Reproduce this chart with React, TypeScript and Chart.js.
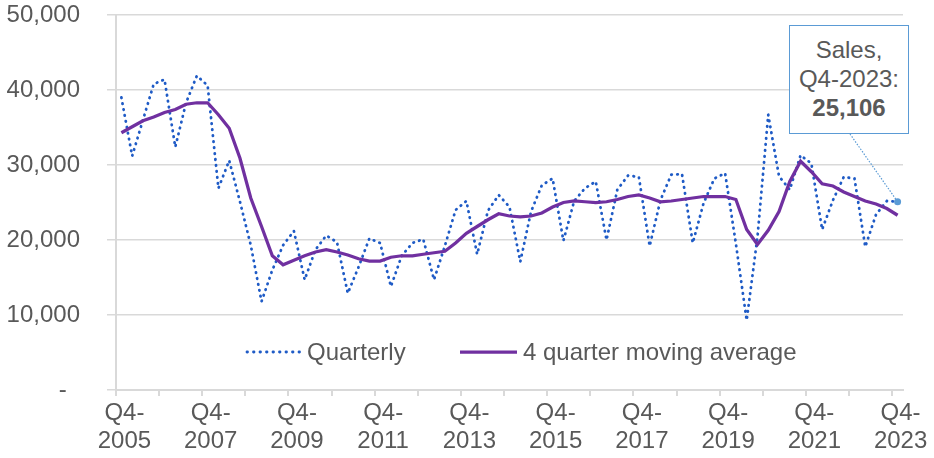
import React, { useEffect, useRef } from "react";
import { Chart, registerables } from "chart.js";

Chart.register(...registerables);

// ---- data ----
const firstCategory = "Q4-2005";
const categoryYears = [2006, 2007, 2008, 2009, 2010, 2011, 2012, 2013, 2014, 2015, 2016, 2017, 2018, 2019, 2020, 2021, 2022, 2023];
const quarterNames = ["Q1", "Q2", "Q3", "Q4"];

const quarterly = [
  39000, 31200, 36000, 40800, 41400, 32400, 38300, 41900, 40600, 26900,
  30600, 25100, 19300, 11800, 16000, 19300, 21200, 14700, 18700, 20600,
  19700, 12900, 16400, 20200, 19600, 13800, 17900, 19600, 20100, 14700,
  19200, 24000, 25200, 18100, 23900, 26000, 24400, 17100, 23800, 27300,
  28200, 19900, 25200, 26900, 27800, 20000, 26700, 28600, 28400, 19200,
  25300, 28700, 28800, 19600, 24900, 28200, 28900, 19500, 9300, 20400,
  36700, 28500, 26700, 31300, 30200, 21400, 25300, 28400, 28200, 19100,
  23400, 25200, 25106,
];

const movingAverage = [
  34300, 35100, 35900, 36400, 37000, 37400, 38100, 38300, 38300, 36700,
  34900, 30900, 25600, 21800, 17900, 16700, 17300, 17900, 18400, 18700,
  18400, 18000, 17500, 17200, 17200, 17700, 17900, 17900, 18100, 18300,
  18500, 19600, 20900, 21800, 22700, 23500, 23200, 23100, 23200, 23600,
  24400, 25000, 25200, 25100, 25000, 25100, 25400, 25800, 26000, 25600,
  25100, 25200, 25400, 25600, 25800, 25800, 25800, 25400, 21400, 19400,
  21300, 23800, 27800, 30500, 29100, 27500, 27200, 26400, 25800, 25200,
  24800, 24200, 23300,
];

const seriesNames = ["Quarterly", "4 quarter moving average"];
const yTicks = [0, 10000, 20000, 30000, 40000, 50000];
const calloutLines = ["Sales,", "Q4-2023:"];
const calloutValue = "25,106";

const categories: string[] = [firstCategory];
categoryYears.forEach((y) => quarterNames.forEach((q) => categories.push(`${q}-${y}`)));

// ---- styles ----
const FONT = "'Liberation Sans', Arial, sans-serif";
const TEXT = "#595959";
const GRID = "#d9d9d9";
const BLUE = "#1f5bc6";
const PURPLE = "#7030a0";
const CALLOUT = "#5b9bd5";

const leaderPlugin = {
  id: "leader",
  beforeDatasetsDraw(chart: any) {
    const meta = chart.getDatasetMeta(0);
    const pt = meta.data[meta.data.length - 1];
    if (!pt) return;
    const ctx = chart.ctx;
    ctx.save();
    ctx.strokeStyle = CALLOUT;
    ctx.lineWidth = 1.2;
    ctx.setLineDash([1.5, 1.5]);
    ctx.beginPath();
    ctx.moveTo(850, 134);
    ctx.lineTo(pt.x, pt.y);
    ctx.stroke();
    ctx.restore();
  },
};

export default function App() {
  const ref = useRef<HTMLCanvasElement | null>(null);

  useEffect(() => {
    if (!ref.current) return;
    const last = quarterly.length - 1;
    const chart = new Chart(ref.current, {
      type: "line",
      data: {
        labels: categories,
        datasets: [
          {
            label: seriesNames[0],
            data: quarterly,
            borderColor: BLUE,
            backgroundColor: CALLOUT,
            borderWidth: 2.8,
            borderDash: [0.5, 5.5],
            borderCapStyle: "round",
            tension: 0,
            pointRadius: (c: any) => (c.dataIndex === last ? 3.5 : 0),
            pointBackgroundColor: CALLOUT,
            pointBorderColor: CALLOUT,
            pointBorderWidth: 0,
            order: 1,
          },
          {
            label: seriesNames[1],
            data: movingAverage,
            borderColor: PURPLE,
            borderWidth: 3.25,
            tension: 0,
            pointRadius: 0,
            order: 0,
          },
        ],
      },
      options: {
        animation: false,
        responsive: true,
        maintainAspectRatio: false,
        layout: { padding: { top: 15, right: 31, left: 0, bottom: 0 } },
        plugins: {
          legend: { display: false },
          tooltip: { enabled: false },
        },
        scales: {
          x: {
            type: "category",
            offset: true,
            afterFit: (s: any) => {
              s.height = 68;
              s.paddingLeft = 0;
              s.paddingRight = 0;
            },
            grid: {
              offset: true,
              drawOnChartArea: false,
              drawTicks: true,
              tickLength: 6,
              lineWidth: 2,
              color: GRID,
              tickColor: (c: any) => (c.index % 4 === 0 ? GRID : "rgba(0,0,0,0)"),
            },
            border: { color: GRID, width: 2 },
            ticks: {
              autoSkip: false,
              maxRotation: 0,
              minRotation: 0,
              padding: 3,
              labelOffset: 3,
              color: TEXT,
              font: { family: FONT, size: 24, lineHeight: 1.17 },
              callback: function (this: any, value: any, index: number) {
                if (index % 8 !== 0) return "";
                const lab = categories[index];
                const parts = lab.split("-");
                return [parts[0] + "-", parts[1]];
              },
            },
          },
          y: {
            min: 0,
            max: 50000,
            afterFit: (s: any) => {
              s.width = 116;
              s.paddingTop = 0;
              s.paddingBottom = 0;
            },
            afterBuildTicks: (s: any) => {
              s.ticks = yTicks.map((v) => ({ value: v }));
            },
            grid: {
              color: GRID,
              lineWidth: 1.5,
              drawTicks: true,
              tickLength: 9,
            },
            border: { color: GRID, width: 2 },
            ticks: {
              padding: 27,
              color: TEXT,
              font: { family: FONT, size: 24 },
              callback: (v: any) => (Number(v) === 0 ? "-  " : Number(v).toLocaleString("en-US")),
            },
          },
        },
      },
      plugins: [leaderPlugin],
    });
    return () => chart.destroy();
  }, []);

  const textStyle: React.CSSProperties = {
    position: "absolute",
    fontFamily: FONT,
    fontSize: 24,
    color: TEXT,
    lineHeight: "28px",
    whiteSpace: "nowrap",
  };

  return (
    <div style={{ position: "absolute", left: 0, top: 0, width: 934, height: 458, background: "#fff" }}>
      <canvas ref={ref} />
      {/* legend */}
      <svg style={{ position: "absolute", left: 244, top: 346 }} width={60} height={12}>
        <line x1={3} y1={6} x2={56} y2={6} stroke={BLUE} strokeWidth={2.8} strokeDasharray="0.5 6" strokeLinecap="round" />
      </svg>
      <div style={{ ...textStyle, left: 307, top: 338 }}>{seriesNames[0]}</div>
      <svg style={{ position: "absolute", left: 458, top: 346 }} width={62} height={12}>
        <line x1={2} y1={6} x2={59} y2={6} stroke={PURPLE} strokeWidth={3.25} />
      </svg>
      <div style={{ ...textStyle, left: 523, top: 338 }}>{seriesNames[1]}</div>
      {/* callout */}
      <div
        style={{
          position: "absolute",
          left: 789,
          top: 25,
          width: 120,
          height: 109,
          boxSizing: "border-box",
          border: `1.5px solid ${CALLOUT}`,
          background: "#fff",
          fontFamily: FONT,
          fontSize: 24,
          color: TEXT,
          lineHeight: "29px",
          textAlign: "center",
          paddingTop: 9,
        }}
      >
        <div>{calloutLines[0]}</div>
        <div>{calloutLines[1]}</div>
        <div style={{ fontWeight: "bold" }}>{calloutValue}</div>
      </div>
    </div>
  );
}
